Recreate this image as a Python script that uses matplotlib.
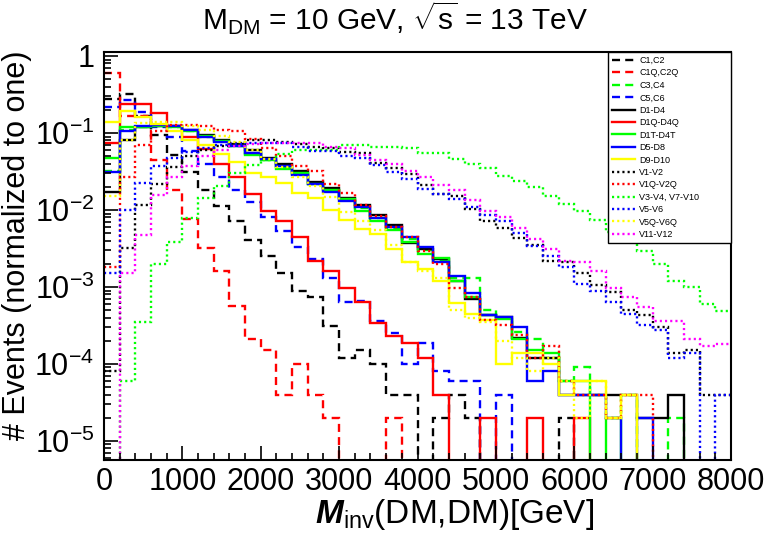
import numpy as np
import matplotlib.pyplot as plt
from matplotlib.ticker import FixedLocator, FixedFormatter, MultipleLocator

plt.rcParams['font.family'] = ['Liberation Sans', 'DejaVu Sans']
plt.rcParams['mathtext.fontset'] = 'custom'
plt.rcParams['mathtext.rm'] = 'Liberation Sans'
plt.rcParams['mathtext.it'] = 'Liberation Sans:italic'
plt.rcParams['mathtext.bf'] = 'Liberation Sans:bold'
plt.rcParams['mathtext.bfit'] = 'Liberation Sans:italic:bold'

# Data: normalized event fractions per 200 GeV bin, 0-8000 GeV
edges = np.arange(0, 8001, 200)

c1_c2 = [0.28, 0.32, 0.166, 0.094, 0.052, 0.031, 0.018, 0.0114, 0.0071, 0.0041,
         0.0025, 0.0015, 9e-4, 7.5e-4, 3.1e-4, 1.2e-4, 1.5e-4, 1.0e-4, 4e-5, 4e-5,
         0, 2e-5, 4e-5, 2e-5, 0, 0, 0, 0, 0, 2e-5,
         0, 0, 0, 0, 0, 0, 0, 0, 0, 0]
c1q_c2q = [0.6, 0.165, 0.165, 0.044, 0.018, 0.0076, 0.0032, 0.0016, 5.7e-4, 2.1e-4,
           1.5e-4, 4e-5, 1.0e-4, 4e-5, 2e-5, 0, 0, 0, 2e-5, 0,
           0, 0, 0, 0, 0, 0, 0, 0, 0, 0,
           0, 0, 0, 0, 0, 0, 0, 0, 0, 0]
c3_c4 = [0.032, 0.11, 0.12, 0.125, 0.12, 0.105, 0.09, 0.078, 0.068, 0.053,
         0.044, 0.036, 0.029, 0.022, 0.018, 0.0135, 0.0105, 0.0078, 0.0058, 0.0042,
         0.003, 0.0022, 0.0013, 0.0013, 5e-4, 4e-4, 2.6e-4, 2.1e-4, 1.2e-4, 6e-5,
         9e-5, 4e-5, 2e-5, 4e-5, 0, 0, 2e-5, 0, 0, 0]
c5_c6 = [0.22, 0.27, 0.19, 0.12, 0.09, 0.059, 0.04, 0.027, 0.018, 0.0126,
         0.0082, 0.0054, 0.0033, 0.0023, 0.0013, 6.4e-4, 6.6e-4, 3.6e-4, 2.5e-4, 1.0e-4,
         1.9e-4, 8e-5, 6e-5, 6e-5, 0, 4e-5, 0, 0, 0, 0,
         0, 0, 0, 0, 0, 0, 0, 0, 0, 0]
d1_d4 = [0.017, 0.08, 0.118, 0.124, 0.122, 0.11, 0.094, 0.081, 0.072, 0.061,
         0.047, 0.04, 0.032, 0.023, 0.0195, 0.0145, 0.0116, 0.0086, 0.0064, 0.0037,
         0.0031, 0.0023, 0.0012, 7e-4, 4.3e-4, 4.1e-4, 2.2e-4, 1.2e-4, 1.2e-4, 4e-5,
         4e-5, 4e-5, 4e-5, 4e-5, 2e-5, 2e-5, 4e-5, 0, 0, 0]
d1q_d4q = [0.074, 0.24, 0.24, 0.18, 0.123, 0.088, 0.062, 0.04, 0.027, 0.016,
           0.0098, 0.0071, 0.0044, 0.0022, 0.0016, 9.6e-4, 6.4e-4, 3.4e-4, 2.3e-4, 1.9e-4,
           1.2e-4, 4e-5, 0, 0, 2e-5, 0, 0, 2e-5, 0, 0,
           2e-5, 0, 0, 0, 0, 0, 0, 0, 0, 0]
d1t_d4t = [0.047, 0.118, 0.12, 0.125, 0.12, 0.105, 0.092, 0.078, 0.068, 0.052,
           0.045, 0.034, 0.03, 0.022, 0.018, 0.0138, 0.0098, 0.0071, 0.0055, 0.0038,
           0.0027, 0.0024, 0.0012, 7.5e-4, 4.3e-4, 3.8e-4, 2.1e-4, 1.5e-4, 1.4e-4, 6e-5,
           6e-5, 0, 2e-5, 0, 0, 0, 0, 0, 0, 0]
d5_d8 = [0.031, 0.105, 0.125, 0.128, 0.124, 0.108, 0.09, 0.076, 0.068, 0.055,
         0.046, 0.037, 0.0285, 0.022, 0.0173, 0.0132, 0.0109, 0.0078, 0.006, 0.0045,
         0.0033, 0.0021, 0.0014, 8.4e-4, 4.3e-4, 4.1e-4, 3e-4, 6e-5, 8e-5, 4e-5,
         4e-5, 4e-5, 2e-5, 0, 2e-5, 0, 0, 0, 0, 0]
d9_d10 = [0.14, 0.195, 0.16, 0.13, 0.105, 0.081, 0.07, 0.054, 0.042, 0.03,
          0.027, 0.0225, 0.0164, 0.0141, 0.01, 0.0074, 0.0056, 0.0049, 0.0031, 0.0021,
          0.0017, 0.0012, 6.2e-4, 4.5e-4, 3.7e-4, 1.0e-4, 1.4e-4, 1.4e-4, 1.0e-4, 4e-5,
          6e-5, 6e-5, 2e-5, 4e-5, 0, 0, 0, 0, 0, 0]
v1_v2 = [8e-5, 0.0032, 0.0116, 0.022, 0.036, 0.05, 0.06, 0.068, 0.074, 0.081,
         0.081, 0.077, 0.072, 0.066, 0.064, 0.056, 0.055, 0.041, 0.035, 0.029,
         0.021, 0.016, 0.015, 0.0102, 0.0073, 0.0058, 0.0043, 0.0035, 0.0022, 0.0021,
         0.0015, 0.00105, 8.5e-4, 5e-4, 4.3e-4, 3e-4, 1.4e-4, 1.5e-4, 4e-5, 4e-5]
v1q_v2q = [0.0018, 0.027, 0.069, 0.107, 0.127, 0.127, 0.125, 0.11, 0.105, 0.083,
           0.063, 0.05, 0.037, 0.032, 0.022, 0.0164, 0.0116, 0.0084, 0.006, 0.0045,
           0.0029, 0.002, 9.6e-4, 7.5e-4, 3.7e-4, 3.2e-4, 2.4e-4, 1.2e-4, 1.7e-4, 6e-5,
           4e-5, 4e-5, 2e-5, 4e-5, 4e-5, 0, 0, 0, 0, 0]
v3_v4_v7_v10 = [0, 6e-5, 3.5e-4, 0.002, 0.0038, 0.0078, 0.0141, 0.0205, 0.03, 0.038,
                0.045, 0.054, 0.06, 0.06, 0.06, 0.069, 0.07, 0.065, 0.065, 0.063,
                0.055, 0.055, 0.046, 0.04, 0.035, 0.028, 0.024, 0.02, 0.0153, 0.012,
                0.0096, 0.0074, 0.0052, 0.004, 0.0029, 0.002, 0.0012, 0.001, 6e-4, 4.9e-4]
v5_v6 = [0.0015, 0.01, 0.0225, 0.037, 0.048, 0.057, 0.064, 0.07, 0.073, 0.075,
         0.075, 0.074, 0.066, 0.059, 0.059, 0.05, 0.047, 0.038, 0.031, 0.025,
         0.019, 0.016, 0.014, 0.011, 0.0086, 0.0071, 0.005, 0.0034, 0.0025, 0.0018,
         0.0011, 9e-4, 6.4e-4, 4.5e-4, 3.2e-4, 2.8e-4, 1.2e-4, 1.4e-4, 0, 4e-5]
v5q_v6q = [0.015, 0.08, 0.135, 0.14, 0.138, 0.125, 0.108, 0.092, 0.076, 0.06,
           0.046, 0.036, 0.027, 0.0205, 0.0146, 0.0093, 0.0073, 0.0055, 0.0035, 0.0021,
           0.0016, 0.0013, 5e-4, 4e-4, 3.5e-4, 2e-4, 1.2e-4, 8e-5, 1.2e-4, 6e-5,
           2e-5, 6e-5, 2e-5, 4e-5, 0, 0, 0, 0, 0, 0]
v11_v12 = [0, 0.0015, 0.0047, 0.0157, 0.027, 0.037, 0.05, 0.06, 0.067, 0.072,
           0.074, 0.074, 0.074, 0.074, 0.065, 0.063, 0.052, 0.044, 0.039, 0.032,
           0.027, 0.021, 0.018, 0.0135, 0.0096, 0.0081, 0.0058, 0.0042, 0.0031, 0.0022,
           0.0021, 0.0016, 9.6e-4, 7.4e-4, 5.5e-4, 3.6e-4, 3.6e-4, 2.1e-4, 1.7e-4, 1.8e-4]

dash = (0, (3.4, 2.2))
dot = (0, (0.9, 1.3))
series = [
    ('C1,C2', c1_c2, 'black', dash),
    ('C1Q,C2Q', c1q_c2q, 'red', dash),
    ('C3,C4', c3_c4, '#00ff00', dash),
    ('C5,C6', c5_c6, 'blue', dash),
    ('D1-D4', d1_d4, 'black', '-'),
    ('D1Q-D4Q', d1q_d4q, 'red', '-'),
    ('D1T-D4T', d1t_d4t, '#00ff00', '-'),
    ('D5-D8', d5_d8, 'blue', '-'),
    ('D9-D10', d9_d10, '#ffff00', '-'),
    ('V1-V2', v1_v2, 'black', dot),
    ('V1Q-V2Q', v1q_v2q, 'red', dot),
    ('V3-V4, V7-V10', v3_v4_v7_v10, '#00ff00', dot),
    ('V5-V6', v5_v6, 'blue', dot),
    ('V5Q-V6Q', v5q_v6q, '#ffff00', dot),
    ('V11-V12', v11_v12, '#ff00ff', dot),
]

fig = plt.figure(figsize=(7.65, 5.41), dpi=100)
ax = fig.add_axes([104 / 765, 81 / 541, 627 / 765, 408 / 541])

for label, vals, color, ls in series:
    v = np.array(vals, dtype=float)
    v = np.where(v > 0, v, 1e-9)  # empty bins drop to the bottom like ROOT
    ax.stairs(v, edges, baseline=None, color=color, linestyle=ls, lw=1.7, label=label)

ax.set_yscale('log')
ax.set_xlim(0, 8000)
ax.set_ylim(5.66e-6, 1.127)

ax.xaxis.set_major_locator(MultipleLocator(1000))
ax.xaxis.set_minor_locator(MultipleLocator(200))
major_y = [1e-5, 1e-4, 1e-3, 1e-2, 1e-1, 1]
ax.yaxis.set_major_locator(FixedLocator(major_y))
ax.yaxis.set_major_formatter(FixedFormatter([r'$\mathregular{10^{-5}}$', r'$\mathregular{10^{-4}}$',
                                             r'$\mathregular{10^{-3}}$', r'$\mathregular{10^{-2}}$',
                                             r'$\mathregular{10^{-1}}$', '1']))
minor_y = [m * 10.0 ** e for e in range(-6, 1) for m in range(2, 10)]
ax.yaxis.set_minor_locator(FixedLocator(minor_y))
ax.yaxis.set_minor_formatter(FixedFormatter([''] * len(minor_y)))

ax.tick_params(which='both', direction='in', top=False, right=False, labelsize=22, width=1.2)
ax.tick_params(which='major', length=10)
ax.tick_params(which='minor', length=5)
ax.tick_params(axis='x', pad=5)
ax.tick_params(axis='y', pad=7)
for s in ax.spines.values():
    s.set_linewidth(1.5)

leg = ax.legend(loc='upper left', bbox_to_anchor=(504 / 627, 0, 123 / 627, 1), mode='expand',
                borderaxespad=0, fontsize=6.5, frameon=True, fancybox=False,
                edgecolor='black', framealpha=1, handlelength=2.5, labelspacing=0.38,
                handletextpad=0.5, borderpad=0.45)
leg.get_frame().set_linewidth(1.0)

fig.text(395 / 765, 1 - 18 / 541, r'M$_{\mathregular{DM}}$ = 10 GeV, $\sqrt{\mathregular{s}}$ = 13 TeV',
         ha='center', va='center', fontsize=21.5)
fig.text(455 / 765, 1 - 514 / 541, r'$\mathbfit{M}_{\mathregular{inv}}$(DM,DM)[GeV]',
         ha='center', va='center', fontsize=24)
fig.text(17 / 765, 1 - 245 / 541, '# Events (normalized to one)', rotation=90,
         ha='center', va='center', fontsize=22)

fig.savefig('out.png', dpi=100)
